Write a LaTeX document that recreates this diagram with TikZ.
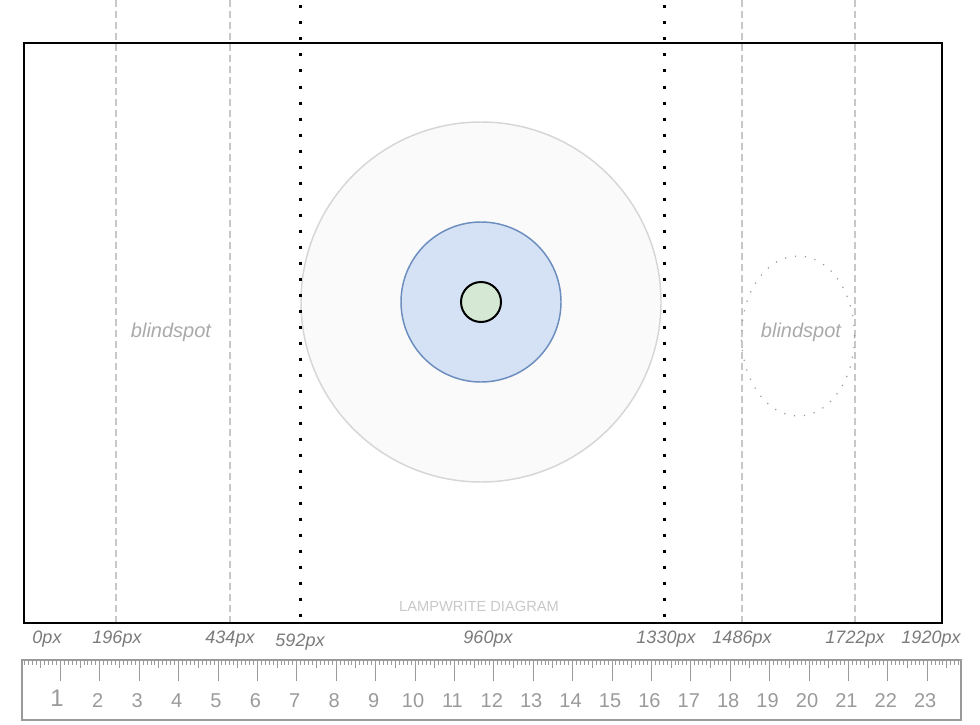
\documentclass[tikz,border=0pt]{standalone}
\usepackage{fontspec}
\setmainfont{Liberation Sans}
\definecolor{guidegray}{HTML}{C8C8C8}
\definecolor{outerfill}{HTML}{FAFAFA}
\definecolor{outerdraw}{HTML}{D6D6D6}
\definecolor{bluefill}{HTML}{D5E1F4}
\definecolor{bluedraw}{HTML}{6C8EBF}
\definecolor{greenfill}{HTML}{D5E8D4}
\definecolor{blindgray}{HTML}{AAAAAA}
\definecolor{labelgray}{HTML}{7A7A7A}
\definecolor{rulergray}{HTML}{9A9A9A}
\definecolor{wmgray}{HTML}{C8C8C8}
\begin{document}
\begin{tikzpicture}[x=0.75pt,y=-0.75pt,
  guide/.style={draw=guidegray, line width=0.9pt, dash pattern=on 5pt off 3.25pt},
  edgeline/.style={draw=black, line width=2.25pt, dash pattern=on 2.25pt off 9.75pt},
  pxlabel/.style={text=labelgray, font=\fontsize{13.5}{15}\selectfont\itshape, inner sep=0pt},
  blindtext/.style={text=blindgray, font=\fontsize{15}{18}\selectfont\itshape, inner sep=0pt},
  rulerline/.style={draw=rulergray, line width=1.5pt},
  tickline/.style={draw=rulergray, line width=0.75pt},
  rulernum/.style={text=rulergray, font=\fontsize{15}{18}\selectfont, inner sep=0pt}]
\useasboundingbox (0,0) rectangle (980,724);
% guides
\foreach \gx in {116,230,742,855} \draw[guide] (\gx,0) -- (\gx,622);
% frame
\node[draw=black, line width=1.5pt, minimum width=688.5pt, minimum height=435pt, inner sep=0pt, anchor=north west] (frame) at (23,42) {};
% circles
\node[circle, draw=outerdraw, fill=outerfill, line width=1.1pt, minimum size=270pt, inner sep=0pt] (outer) at (481,302) {};
\node[circle, draw=bluedraw, fill=bluefill, line width=1.1pt, minimum size=120pt, inner sep=0pt] (inner) at (481,302) {};
\node[circle, draw=black, fill=greenfill, line width=1.5pt, minimum size=30pt, inner sep=0pt] (core) at (481,302) {};
\foreach \gx in {300,664} \draw[edgeline] (\gx,5.5) -- (\gx,622);
% blindspot ellipse
\draw[draw=rulergray, line width=0.9pt, dash pattern=on 0.9pt off 6.6pt] (798,336) ellipse [x radius=42.4pt, y radius=60pt];
\node[blindtext] (bl) at (171,332.5) {blindspot};
\node[blindtext] (br) at (801,332.5) {blindspot};
% watermark
\node[text=wmgray, font=\fontsize{11}{13}\selectfont, inner sep=0pt] (wm) at (479,606) {LAMPWRITE DIAGRAM};
% px labels
\node[pxlabel] (l0) at (47,639.5) {0px};
\node[pxlabel] (l196) at (117,639.5) {196px};
\node[pxlabel] (l434) at (230,639.5) {434px};
\node[pxlabel] (l592) at (300,642) {592px};
\node[pxlabel] (l960) at (488,639.5) {960px};
\node[pxlabel] (l1330) at (666,639.5) {1330px};
\node[pxlabel] (l1486) at (742,639.5) {1486px};
\node[pxlabel] (l1722) at (855,639.5) {1722px};
\node[pxlabel] (l1920) at (931,639.5) {1920px};
% ruler
\draw[rulerline] (22,660) rectangle (961,720);
\foreach \i in {1,...,238} \draw[tickline] ({21+\i*3.94},661) -- ++(0,4);
\foreach \i in {0,...,23} \draw[tickline] ({21+(\i+0.5)*39.4},661) -- ++(0,7);
\foreach \i in {1,...,23} \draw[tickline] ({21+\i*39.4},661) -- ++(0,20);
\node[text=rulergray, font=\fontsize{18}{20}\selectfont, inner sep=0pt] (n1) at (57,698) {1};
\foreach \i in {2,...,23} \node[rulernum] (n\i) at ({21+\i*39.4-2},701) {\i};
\end{tikzpicture}
\end{document}
